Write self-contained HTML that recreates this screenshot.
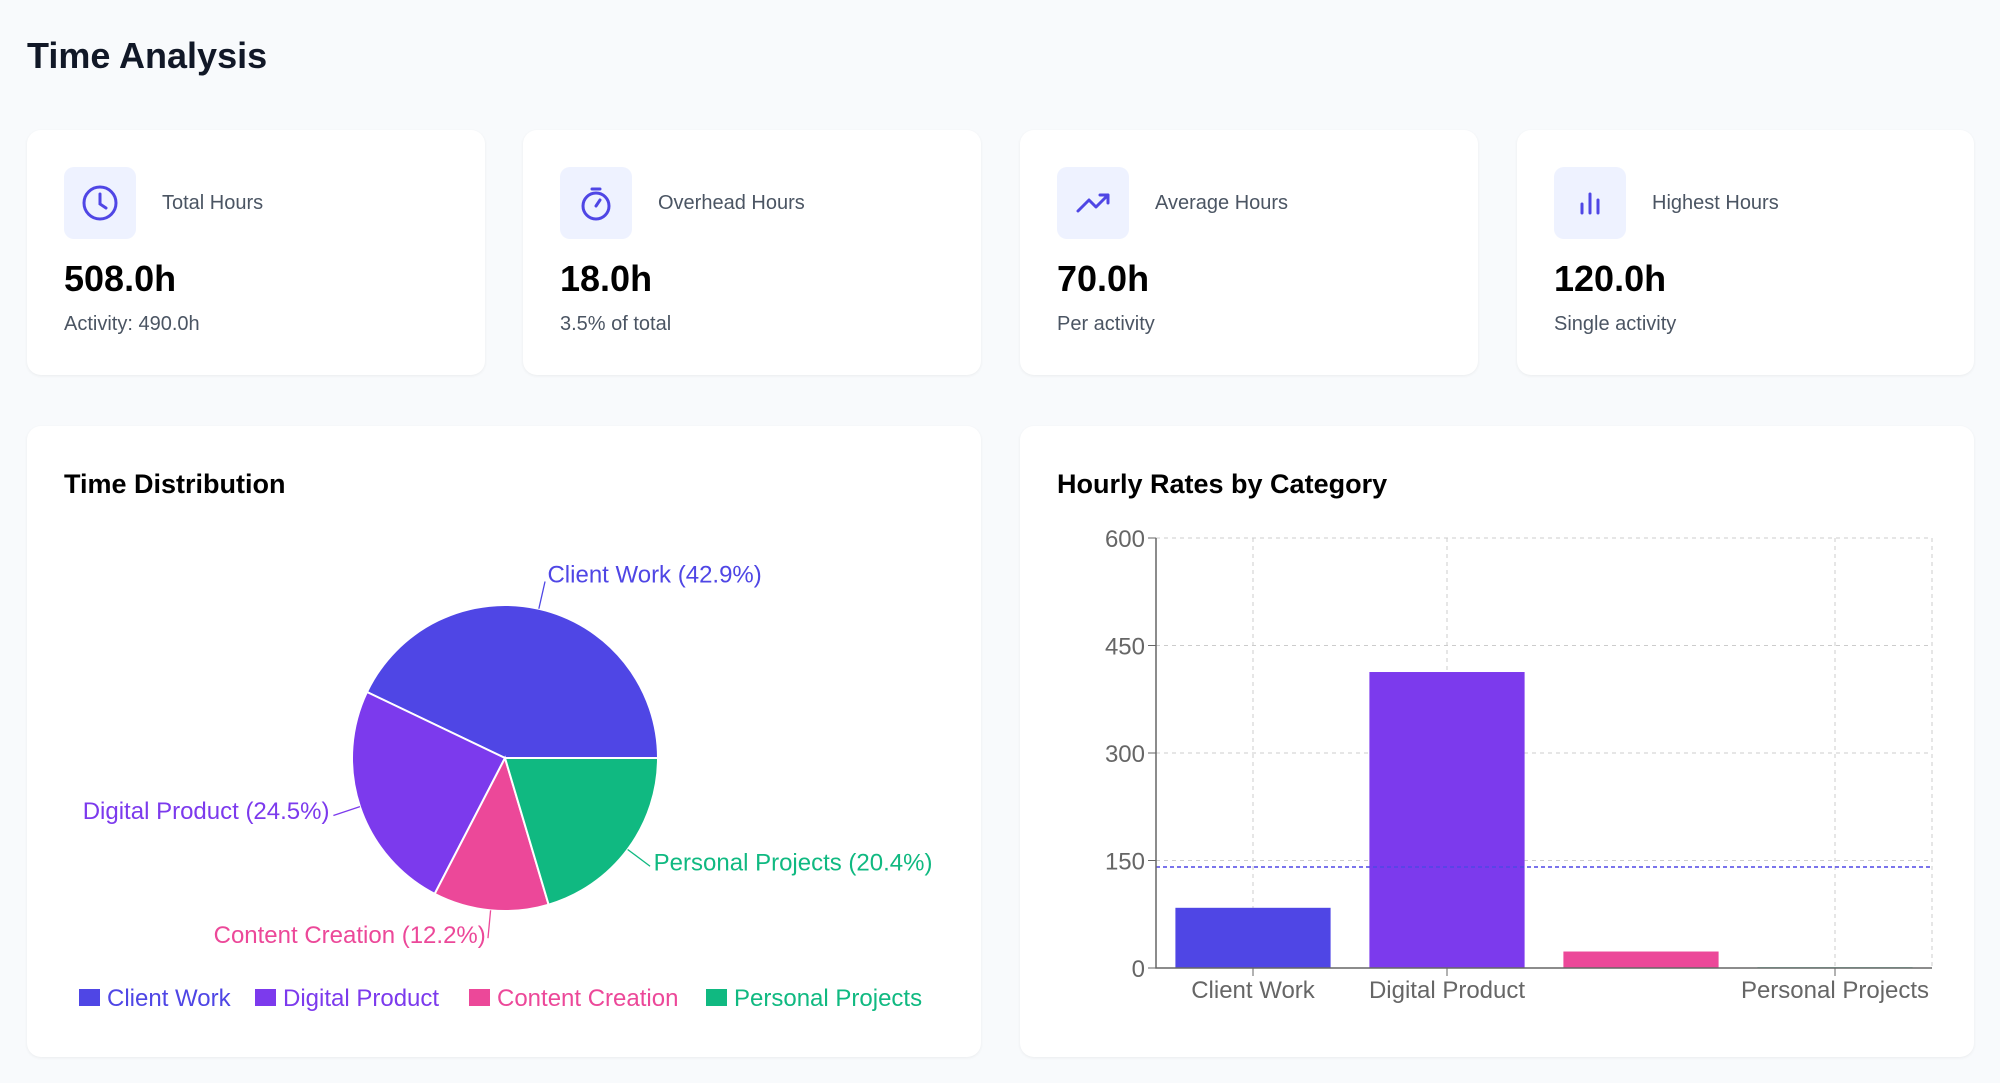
<!DOCTYPE html>
<html><head><meta charset="utf-8"><style>
body{margin:0;width:2000px;height:1083px;background:#f8fafc;font-family:"Liberation Sans",sans-serif;position:relative;overflow:hidden}
.card{position:absolute;background:#fff;border-radius:14px;box-shadow:0 1px 3px rgba(0,0,0,0.06)}
.icon{position:absolute;left:37px;top:37px;width:72px;height:72px;border-radius:10px;background:#eef2ff}
.lbl{position:absolute;left:135px;top:62px;font-size:20px;color:#4b5563}
.val{position:absolute;left:37px;top:128px;font-size:36px;font-weight:bold;color:#000}
.sub{position:absolute;left:37px;top:183px;font-size:20px;color:#4b5563}
h1{position:absolute;left:27px;top:35px;margin:0;font-size:36px;color:#111827}
.ct{position:absolute;left:37px;top:43px;font-size:27px;font-weight:bold;color:#000}
</style></head><body>
<h1>Time Analysis</h1>

<div class="card" style="left:27px;top:130px;width:458px;height:245px">
<div class="icon"><svg width="72" height="72" viewBox="0 0 72 72"><circle cx="36" cy="36" r="16" fill="none" stroke="#4f46e5" stroke-width="3"/><path d="M36 27v10l6 4" fill="none" stroke="#4f46e5" stroke-width="3" stroke-linecap="round"/></svg></div>
<div class="lbl">Total Hours</div>
<div class="val">508.0h</div>
<div class="sub">Activity: 490.0h</div></div>

<div class="card" style="left:523px;top:130px;width:458px;height:245px">
<div class="icon"><svg width="72" height="72" viewBox="0 0 72 72"><circle cx="36" cy="39" r="13" fill="none" stroke="#4f46e5" stroke-width="3"/><path d="M32 22h8M36 39l4-6" fill="none" stroke="#4f46e5" stroke-width="3" stroke-linecap="round"/></svg></div>
<div class="lbl">Overhead Hours</div>
<div class="val">18.0h</div>
<div class="sub">3.5% of total</div></div>

<div class="card" style="left:1020px;top:130px;width:458px;height:245px">
<div class="icon"><svg width="72" height="72" viewBox="0 0 72 72"><path d="M21 44l11-11 7 7 12-12M43 28h8v8" fill="none" stroke="#4f46e5" stroke-width="3" stroke-linecap="round" stroke-linejoin="round"/></svg></div>
<div class="lbl">Average Hours</div>
<div class="val">70.0h</div>
<div class="sub">Per activity</div></div>

<div class="card" style="left:1517px;top:130px;width:457px;height:245px">
<div class="icon"><svg width="72" height="72" viewBox="0 0 72 72"><path d="M28 46v-9M36 46V27M44 46V33" fill="none" stroke="#4f46e5" stroke-width="3" stroke-linecap="round"/></svg></div>
<div class="lbl">Highest Hours</div>
<div class="val">120.0h</div>
<div class="sub">Single activity</div></div>

<div class="card" style="left:27px;top:426px;width:954px;height:631px">
<div class="ct">Time Distribution</div></div>
<div class="card" style="left:1020px;top:426px;width:954px;height:631px">
<div class="ct">Hourly Rates by Category</div></div>

<svg id="charts" width="2000" height="1083" style="position:absolute;left:0;top:0" font-family="Liberation Sans, sans-serif"></svg>
<script>
const pieLabels=["Client Work","Digital Product","Content Creation","Personal Projects"];
const pieValues=[42.9,24.5,12.2,20.4];
const colors=["#4f46e5","#7c3aed","#ec4899","#10b981"];
const barCats=["Client Work","Digital Product","Content Creation","Personal Projects"];
const barValues=[84,413,23,1];
const shownTicks=["Client Work","Digital Product","Personal Projects"];
const yTicks=[0,150,300,450,600];
const avgRate=141;

const svg=document.getElementById('charts');
const NS='http://www.w3.org/2000/svg';
function mk(t,a,p){const e=document.createElementNS(NS,t);for(const k in a)e.setAttribute(k,a[k]);(p||svg).appendChild(e);return e;}

// pie
const cx=505,cy=758,R=153;
const tot=pieValues.reduce((a,b)=>a+b,0);
let ang=0;
pieValues.forEach((v,i)=>{
  const a0=ang,a1=ang+v/tot*360;ang=a1;
  const r0=a0*Math.PI/180,r1=a1*Math.PI/180;
  const x0=cx+R*Math.cos(r0),y0=cy-R*Math.sin(r0),x1=cx+R*Math.cos(r1),y1=cy-R*Math.sin(r1);
  const large=(a1-a0)>180?1:0;
  const s=mk('path',{d:`M${cx},${cy}L${x0},${y0}A${R},${R} 0 ${large} 0 ${x1},${y1}Z`,fill:colors[i],stroke:'#fff','stroke-width':2});
  
  
  const m=(a0+a1)/2*Math.PI/180,c=Math.cos(m),sn=Math.sin(m);
  const l=mk('path',{d:`M${cx+R*c},${cy-R*sn}L${cx+(R+28)*c},${cy-(R+28)*sn}`,stroke:colors[i],fill:'none','stroke-width':1.3});
  
  
  const tx=cx+(R+30)*c,ty=cy-(R+30)*sn;
  const t=mk('text',{x:tx+(c>=0?2:-2),y:ty+3,'font-size':24,fill:colors[i],'text-anchor':c>=0?'start':'end'});
  t.textContent=pieLabels[i]+' ('+v.toFixed(1)+'%)';
  
  
});
// legend
const legX=[79,255,469,706];
pieLabels.forEach((n,i)=>{
  const r=mk('rect',{x:legX[i],y:989,width:21,height:17,fill:colors[i]});
  
  
  const t=mk('text',{x:legX[i]+28,y:1006,'font-size':24,fill:colors[i]});
  t.textContent=n;
  
  
});

// bars
const X0=1156,X1=1932,Y0=968,Y1=538,ymax=600;
const band=(X1-X0)/barCats.length;
const y=v=>Y0-(v/ymax)*(Y0-Y1);
const xc=i=>X0+band*(i+0.5);
yTicks.forEach(v=>{
  if(v>0){const g=mk('line',{x1:X0,x2:X1,y1:y(v),y2:y(v),stroke:'#ccc','stroke-dasharray':'4 4'});
  
  }
  const tk=mk('line',{x1:X0-8,x2:X0,y1:y(v),y2:y(v),stroke:'#666'});
  
  
  const t=mk('text',{x:X0-11,y:y(v)+9,'font-size':24,fill:'#666','text-anchor':'end'});
  t.textContent=v;
  
  
});
barCats.forEach((c,i)=>{
  if(shownTicks.includes(c)){
    const g=mk('line',{x1:xc(i),x2:xc(i),y1:Y1,y2:Y0,stroke:'#ccc','stroke-dasharray':'4 4'});
    
    
  }
});
const rg=mk('line',{x1:X1,x2:X1,y1:Y1,y2:Y0,stroke:'#ccc','stroke-dasharray':'4 4'});


barCats.forEach((c,i)=>{
  const bw=band*0.8;
  const b=mk('rect',{x:xc(i)-bw/2,y:y(barValues[i]),width:bw,height:Y0-y(barValues[i]),fill:colors[i]});
  
  
  if(shownTicks.includes(c)){
    const tk=mk('line',{x1:xc(i),x2:xc(i),y1:Y0,y2:Y0+8,stroke:'#666'});
    
    
    const t=mk('text',{x:xc(i),y:Y0+30,'font-size':24,fill:'#666','text-anchor':'middle'});
    t.textContent=c;
    
    
  }
});
const av=mk('line',{x1:X0,x2:X1,y1:y(avgRate),y2:y(avgRate),stroke:'#4f46e5','stroke-width':1.5,'stroke-dasharray':'4 3'});


const ax=mk('path',{d:`M${X0},${Y1}V${Y0}H${X1}`,stroke:'#666',fill:'none','stroke-width':1.5});


</script>
</body></html>
